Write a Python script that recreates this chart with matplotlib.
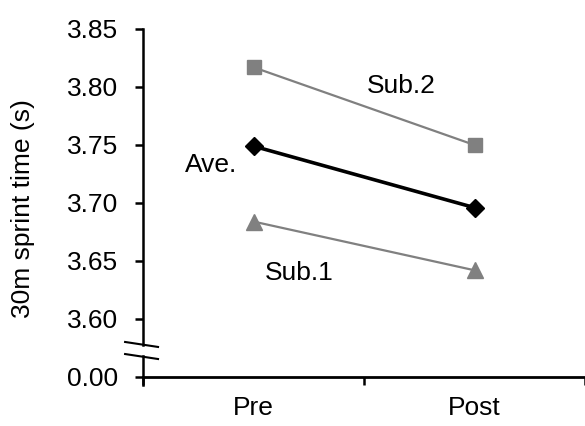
import matplotlib.pyplot as plt

plt.rcParams['font.family'] = ['Liberation Sans', 'DejaVu Sans']

categories = ['Pre', 'Post']
ave = [3.749, 3.696]
sub1 = [3.684, 3.642]
sub2 = [3.817, 3.750]
ytick_vals = [3.55, 3.60, 3.65, 3.70, 3.75, 3.80, 3.85]
ytick_labels = ['0.00', '3.60', '3.65', '3.70', '3.75', '3.80', '3.85']

grey = '#808080'
fs = 19

fig = plt.figure(figsize=(5.85, 4.26), dpi=100)
ax = fig.add_axes([143/585, 49/426, 442/585, 348/426])

xs = [i + 0.5 for i in range(len(categories))]

# subjects in grey, average in black
ax.plot(xs, sub2, color=grey, lw=1.6, marker='s', ms=10, mec=grey, mfc=grey, clip_on=False)
ax.plot(xs, sub1, color=grey, lw=1.6, marker='^', ms=11, mec=grey, mfc=grey, clip_on=False)
ax.plot(xs, ave, color='black', lw=2.6, marker='D', ms=9, mec='black', mfc='black', clip_on=False)

ax.text(1.014, 3.795, 'Sub.2', fontsize=fs, ha='left', va='baseline')
ax.text(0.19, 3.727, 'Ave.', fontsize=fs, ha='left', va='baseline')
ax.text(0.552, 3.634, 'Sub.1', fontsize=fs, ha='left', va='baseline')

ax.set_xlim(0, 2)
ax.set_ylim(3.55, 3.85)

# category axis: ticks on boundaries, labels in the middle
ax.set_xticks([0, 1, 2])
ax.set_xticklabels([])
ax.set_xticks(xs, minor=True)
ax.set_xticklabels(categories, minor=True, fontsize=fs)
ax.tick_params(axis='x', which='major', direction='out', length=6, width=1.8)
ax.tick_params(axis='x', which='minor', length=0, pad=14)

ax.set_yticks(ytick_vals)
ax.set_yticklabels(ytick_labels, fontsize=fs)
ax.tick_params(axis='y', direction='out', length=6, width=1.8, pad=12)

for s in ['top', 'right', 'left']:
    ax.spines[s].set_visible(False)
ax.spines['bottom'].set_linewidth(2.0)

# broken y axis drawn by hand
ax.plot([0, 0], [3.85, 3.578], color='black', lw=1.8, clip_on=False)
ax.plot([0, 0], [3.5677, 3.543], color='black', lw=1.8, clip_on=False)
ax.plot([-0.081, 0.068], [3.5802, 3.5759], color='black', lw=1.5, clip_on=False)
ax.plot([-0.081, 0.068], [3.5698, 3.5655], color='black', lw=1.5, clip_on=False)

ax.set_ylabel('30m sprint time (s)', fontsize=fs)
ax.yaxis.set_label_coords(-0.244, 0.483)

fig.savefig('out.png', dpi=100)
